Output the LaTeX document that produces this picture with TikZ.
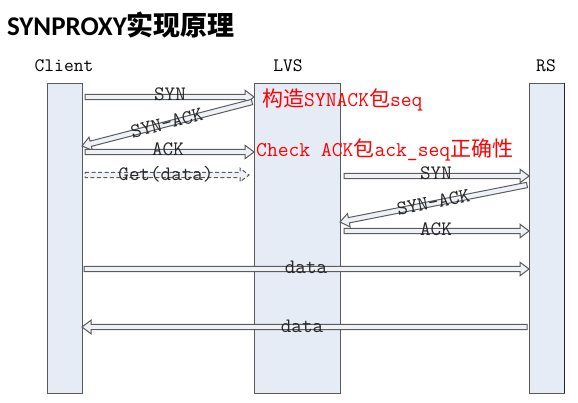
\documentclass[tikz,border=0pt]{standalone}
\usepackage{fontspec}
\newfontfamily\cjk{Noto Sans CJK SC}
\newfontfamily\titlelatin{Carlito}
\usetikzlibrary{arrows.meta,calc}
\definecolor{barfill}{HTML}{E6ECF6}
\definecolor{barline}{HTML}{5A5A5A}
\definecolor{arrline}{HTML}{5C5C5C}
\definecolor{arrfill}{HTML}{EEF1F6}
\tikzset{
  blkstyle/.style={draw=arrline, fill=arrfill, line width=1pt, line join=miter}
}
% block (hollow) arrow from #2 to #3
\newcommand\blk[3][]{%
  \coordinate (bh) at ($(#3)!9pt!(#2)$);
  \draw[blkstyle,#1] ($(#2)!2.7pt!90:(#3)$) -- ($(bh)!2.7pt!-90:(#2)$) -- ($(bh)!6.8pt!-90:(#2)$)
     -- (#3) -- ($(bh)!6.8pt!90:(#2)$) -- ($(bh)!2.7pt!90:(#2)$) -- ($(#2)!2.7pt!-90:(#3)$) -- cycle;}
\begin{document}
\begin{tikzpicture}[x=1pt,y=-1pt,
  bar/.style={draw=barline, fill=barfill, line width=0.8pt, minimum height=310pt, inner sep=0pt},
  lbl/.style={font=\fontsize{20.5}{20.5}\selectfont\ttfamily, inner sep=0pt, text=black!85},
  head/.style={font=\fontsize{19}{19}\selectfont\ttfamily, inner sep=0pt},
  note/.style={anchor=west, text=red, font=\fontsize{21}{21}\selectfont\ttfamily, inner sep=0pt}]
\useasboundingbox (0,0) rectangle (578,403);
% title
\node[anchor=west, inner sep=0pt] (title) at (7,25)
  {{\fontsize{27}{27}\selectfont\titlelatin\bfseries SYNPROXY}{\fontsize{27}{27}\selectfont\cjk\bfseries 实现原理}};
% headers
\node[head] (hc) at (64,66) {Client};
\node[head] (hl) at (288,66) {LVS};
\node[head] (hr) at (546,66) {RS};
% bars
\node[bar, minimum width=35pt] (client) at (64.5,238) {};
\node[bar, minimum width=86pt] (lvs) at (297,238) {};
\node[bar, minimum width=35pt] (rs) at (546.5,238) {};
\draw[line width=1.6pt, black!85] (rs.north east) -- (rs.south east);
% coordinates
\coordinate (a1s) at (85,97);   \coordinate (a1e) at (254,97);
\coordinate (a2s) at (252,102); \coordinate (a2e) at (82,146);
\coordinate (a3s) at (85,152);  \coordinate (a3e) at (254,152);
\coordinate (a4s) at (85,175);  \coordinate (a4e) at (249,175);
\coordinate (a5s) at (344,176); \coordinate (a5e) at (529,176);
\coordinate (a6s) at (527,185); \coordinate (a6e) at (340,222);
\coordinate (a7s) at (344,231); \coordinate (a7e) at (529,231);
\coordinate (a8s) at (84,269);  \coordinate (a8e) at (529,269);
\coordinate (a9s) at (527,327); \coordinate (a9e) at (82,327);
% messages
\blk{a1s}{a1e}
\node[lbl] (l1) at (170,94) {SYN};
\blk{a2s}{a2e}
\path (a2s) -- (a2e) node[lbl, midway, sloped, yshift=1pt] (l2) {SYN-ACK};
\blk{a3s}{a3e}
\node[lbl] (l3) at (168,149) {ACK};
\blk[dashed, dash pattern=on 4pt off 2.5pt]{a4s}{a4e}
\node[lbl] (l4) at (166,174) {Get(data)};
\blk{a5s}{a5e}
\node[lbl] (l5) at (436,173) {SYN};
\blk{a6s}{a6e}
\path (a6s) -- (a6e) node[lbl, midway, sloped, yshift=1pt] (l6) {SYN-ACK};
\blk{a7s}{a7e}
\node[lbl] (l7) at (436,229) {ACK};
\blk{a8s}{a8e}
\node[lbl] (l8) at (306,267) {data};
\blk{a9s}{a9e}
\node[lbl] (l9) at (302,326) {data};
% notes
\node[note] (n1) at (262,100) {{\cjk 构造}SYNACK{\cjk 包}seq};
\node[note] (n2) at (256,150) {Check ACK{\cjk 包}ack\_seq{\cjk 正确性}};
\end{tikzpicture}
\end{document}
